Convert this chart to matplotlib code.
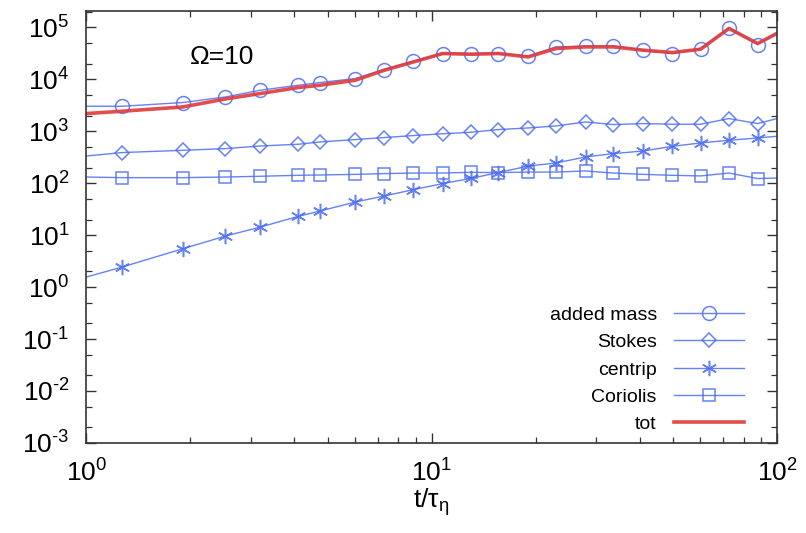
import math
import matplotlib
matplotlib.use("Agg")
import matplotlib.pyplot as plt
from matplotlib.ticker import LogLocator, NullFormatter, FuncFormatter

# ==========================================
# DATA
# ==========================================
# first and last entries are where the curves meet the frame (no marker there)
t = [1.0, 1.27, 1.905, 2.53, 3.19, 4.11, 4.75, 6.01, 7.29, 8.86, 10.77, 13.0,
     15.6, 19.05, 22.9, 27.9, 33.6, 41.0, 49.8, 60.1, 72.6, 87.9, 100.0]

added_mass = [3030, 3030, 3575, 4580, 6170, 7690, 8670, 10350, 15450, 22300, 31400,
              31400, 31400, 27900, 42100, 43400, 44000, 36400, 31400, 39200, 97800,
              46800, 80000]
stokes = [334, 389, 430, 464, 521, 562, 623, 692, 757, 827, 896, 957, 1080, 1158,
          1266, 1511, 1346, 1407, 1365, 1365, 1757, 1407, 1757]
centrip = [1.56, 2.43, 5.49, 9.61, 14.3, 23.0, 29.1, 43.4, 56.7, 75.3, 98.3, 124,
           160, 214, 245, 320, 372, 417, 514, 595, 671, 743, 801]
coriolis = [131.6, 128, 128, 131.6, 136, 142, 144, 148, 153, 157, 157, 162, 160,
            164, 164, 172, 157, 148, 142, 138, 157, 123, 126]
tot = [2190, 2430, 2940, 4190, 5330, 6950, 7690, 9600, 14950, 21600, 31400, 30400,
       31400, 27000, 39200, 42100, 42100, 36400, 32800, 38000, 95300, 49000, 76400]

labels = ["added mass", "Stokes", "centrip", "Coriolis", "tot"]

# ==========================================
# STYLE
# ==========================================
plt.rcParams['font.family'] = ['Liberation Sans', 'DejaVu Sans']
plt.rcParams['mathtext.fontset'] = 'custom'
plt.rcParams['mathtext.rm'] = 'Liberation Sans'
plt.rcParams['mathtext.it'] = 'Liberation Sans:italic'

BLUE = '#4b6cf2'
RED = '#e03a3a'


def pow10(v, pos):
    # gnuplot-like labels: plain hyphen for negative exponents
    e = int(round(math.log10(v)))
    return r'$10^{\text{%d}}$' % e


fig = plt.figure(figsize=(8.06, 5.33), dpi=100)
ax = fig.add_axes([0.107, 0.169, 0.857, 0.810])

marks = slice(1, -1)
common = dict(color=BLUE, lw=1.0, alpha=0.85, mfc='none', mec=BLUE, markevery=marks)
ax.plot(t, added_mass, marker='o', ms=10, mew=1.1, label=labels[0], **common)
ax.plot(t, stokes, marker='D', ms=7, mew=1.1, label=labels[1], **common)
ax.plot(t, centrip, color=BLUE, lw=1.0, alpha=0.85)
ax.plot(t[1:-1], centrip[1:-1], ls='none', marker=(6, 2, 0), ms=11, mew=1.1,
        color=BLUE, alpha=0.85)
ax.plot([], [], color=BLUE, lw=1.0, alpha=0.85, marker=(6, 2, 0), ms=11, mew=1.1,
        label=labels[2])
ax.plot(t, coriolis, marker='s', ms=9, mew=1.1, label=labels[3], **common)
ax.plot(t, tot, color=RED, lw=2.6, alpha=0.9, label=labels[4])

ax.set_xscale('log')
ax.set_yscale('log')
ax.set_xlim(1, 100)
ax.set_ylim(1e-3, 2.05e5)

ax.yaxis.set_major_locator(LogLocator(base=10, numticks=20))
ax.yaxis.set_major_formatter(FuncFormatter(pow10))
ax.yaxis.set_minor_locator(LogLocator(base=10, subs=(2, 5), numticks=20))
ax.yaxis.set_minor_formatter(NullFormatter())
ax.xaxis.set_major_formatter(FuncFormatter(pow10))
ax.xaxis.set_minor_locator(LogLocator(base=10, subs=range(2, 10), numticks=20))
ax.xaxis.set_minor_formatter(NullFormatter())

ax.tick_params(which='both', direction='in', top=True, right=True, colors='#333333')
ax.tick_params(which='major', length=7, width=1.0, labelsize=19, labelcolor='black')
ax.tick_params(which='minor', length=4, width=0.9)
ax.tick_params(axis='y', which='major', pad=12)
ax.tick_params(axis='x', which='major', pad=12)
for s in ax.spines.values():
    s.set_color('#333333')
    s.set_linewidth(1.2)

ax.set_xlabel(r'$\mathrm{t/\tau_\eta}$', fontsize=19, labelpad=0)

ax.text(0.15, 0.893, 'Ω=10', transform=ax.transAxes, fontsize=19,
        ha='left', va='center')

leg = ax.legend(loc='lower right', frameon=False, markerfirst=False,
                fontsize=14, handlelength=3.6, labelspacing=0.5,
                handletextpad=0.9, bbox_to_anchor=(0.978, -0.018))

fig.savefig('out.png', dpi=100)
